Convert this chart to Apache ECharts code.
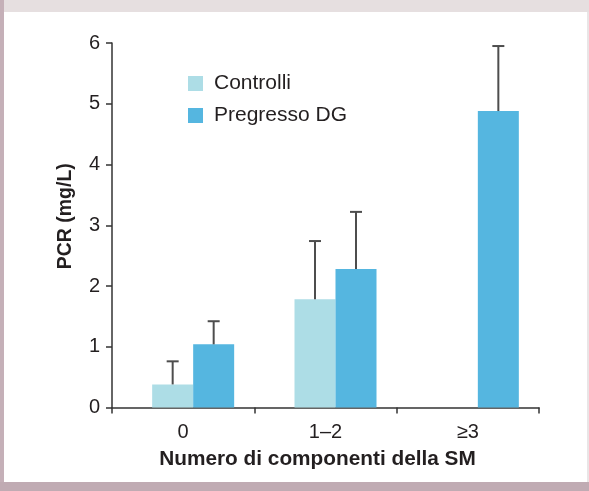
<!DOCTYPE html>
<html>
<head>
<meta charset="utf-8">
<script src="https://cdn.jsdelivr.net/npm/echarts@6/dist/echarts.min.js"></script>
<style>
html,body{margin:0;padding:0;background:#fff;}
#chart{width:589px;height:491px;}
</style>
</head>
<body>
<div id="chart"></div>
<script>
var categories = ['0', '1\u20132', '\u22653'];
var seriesNames = ['Controlli', 'Pregresso DG'];
var controlliVals = [0.38, 1.78, null];
var controlliErrTop = [0.76, 2.74, null];
var pregressoVals = [1.04, 2.28, 4.88];
var pregressoErrTop = [1.42, 3.22, 5.95];
var yTicks = [0, 1, 2, 3, 4, 5, 6];

var BAR_W = 41;
var textColor = '#231f20';
var fontFam = '"Liberation Sans", Arial, Helvetica, sans-serif';

var errData = [];
[controlliVals, pregressoVals].forEach(function (vals, s) {
  var tops = s === 0 ? controlliErrTop : pregressoErrTop;
  vals.forEach(function (v, i) {
    if (v != null) errData.push([i, v, tops[i], s]);
  });
});

var chart = echarts.init(document.getElementById('chart'), null, {renderer: 'canvas'});
var axisLineStyle = {color: '#333', width: 1.5};
chart.setOption({
  animation: false,
  backgroundColor: '#fff',
  textStyle: {fontFamily: fontFam},
  graphic: [
    {type: 'rect', z: -10, shape: {x: 0, y: 0, width: 589, height: 12}, style: {fill: '#e6dfe0'}},
    {type: 'rect', z: -10, shape: {x: 0, y: 0, width: 4, height: 491}, style: {fill: '#c5b0b8'}},
    {type: 'rect', z: -10, shape: {x: 0, y: 482, width: 589, height: 9}, style: {fill: '#c0abb3'}},
    {type: 'rect', z: -10, shape: {x: 587, y: 12, width: 2, height: 470}, style: {fill: '#e9e5e6'}}
  ],
  legend: {
    orient: 'vertical',
    left: 188, top: 73,
    padding: 0,
    itemWidth: 15, itemHeight: 15, itemGap: 11,
    icon: 'rect',
    data: seriesNames,
    textStyle: {fontSize: 21, color: textColor, fontFamily: fontFam, padding: [0, 0, 0, 6]}
  },
  grid: [
    {left: 112, right: 50, top: 43, bottom: 83.5},
    {left: 122, right: 40, top: 43, bottom: 83.5}
  ],
  xAxis: [
    {
      type: 'category', gridIndex: 0, data: categories,
      name: 'Numero di componenti della SM', nameLocation: 'middle', nameGap: 41,
      nameTextStyle: {fontSize: 20.8, fontWeight: 'bold', color: textColor, fontFamily: fontFam, padding: [0, 16, 0, 0]},
      axisLine: {lineStyle: axisLineStyle},
      axisTick: {show: true, length: 6, lineStyle: axisLineStyle, alignWithLabel: false},
      axisLabel: {fontSize: 20, color: textColor, margin: 15, fontFamily: fontFam},
      splitLine: {show: false}
    },
    {
      type: 'category', gridIndex: 1, data: categories, show: false
    }
  ],
  yAxis: [
    {
      type: 'value', gridIndex: 0, min: 0, max: 6, interval: 1,
      name: 'PCR (mg/L)', nameLocation: 'middle', nameGap: 36, nameRotate: 90,
      nameTextStyle: {fontSize: 19.5, fontWeight: 'bold', color: textColor, fontFamily: fontFam, padding: [0, 0, 0, 18]},
      axisLine: {show: true, lineStyle: axisLineStyle},
      axisTick: {show: true, length: 6, lineStyle: axisLineStyle},
      axisLabel: {fontSize: 20, color: textColor, margin: 12, fontFamily: fontFam,
        formatter: function (v) { return yTicks.indexOf(v) >= 0 ? String(v) : ''; }},
      splitLine: {show: false}
    },
    {
      type: 'value', gridIndex: 1, min: 0, max: 6, interval: 1, show: false, splitLine: {show: false}
    }
  ],
  series: [
    {
      name: seriesNames[0], type: 'bar', xAxisIndex: 1, yAxisIndex: 1,
      data: controlliVals.map(function (v) { return v == null ? '-' : v; }),
      barWidth: BAR_W, barGap: '0%',
      itemStyle: {color: '#addde6'}
    },
    {
      name: seriesNames[1], type: 'bar', xAxisIndex: 1, yAxisIndex: 1,
      data: pregressoVals,
      barWidth: BAR_W, barGap: '0%',
      itemStyle: {color: '#55b6e0'}
    },
    {
      type: 'custom', xAxisIndex: 1, yAxisIndex: 1, z: 10,
      data: errData,
      encode: {x: 0, y: [1, 2]},
      renderItem: function (params, api) {
        var i = api.value(0), v = api.value(1), e = api.value(2), s = api.value(3);
        var p0 = api.coord([i, v]);
        var p1 = api.coord([i, e]);
        var x = p0[0] + (s === 0 ? -1 : 1) * BAR_W / 2;
        var style = {stroke: '#4d4d4d', lineWidth: 2};
        return {
          type: 'group',
          children: [
            {type: 'line', shape: {x1: x, y1: p0[1], x2: x, y2: p1[1]}, style: style},
            {type: 'line', shape: {x1: x - 6, y1: p1[1], x2: x + 6, y2: p1[1]}, style: style}
          ]
        };
      }
    }
  ]
});
</script>
</body>
</html>
